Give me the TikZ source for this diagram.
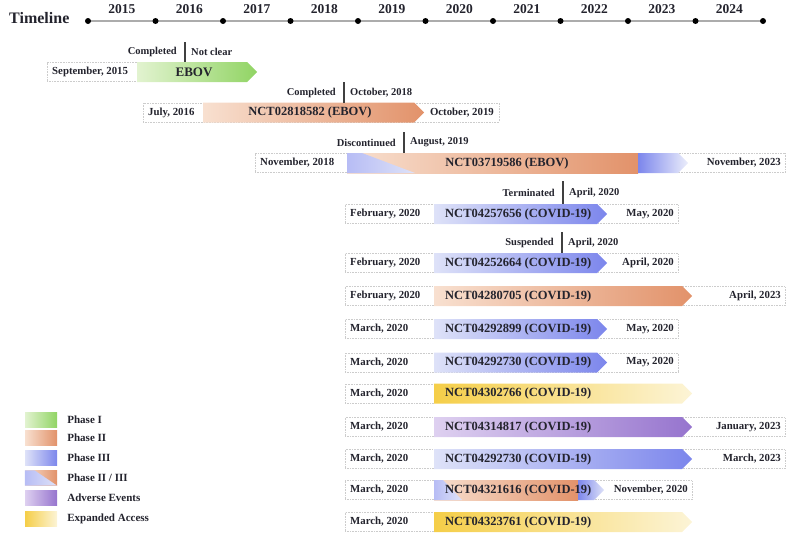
\documentclass[tikz,border=0pt]{standalone}
\usepackage{fontspec}
\setmainfont{Liberation Serif}
\usetikzlibrary{positioning,calc}
\definecolor{clrGrnL}{RGB}{226,243,208}
\definecolor{clrGrnD}{RGB}{145,212,100}
\definecolor{clrOrgL}{RGB}{248,224,208}
\definecolor{clrOrgD}{RGB}{226,146,106}
\definecolor{clrBluL}{RGB}{222,226,248}
\definecolor{clrBluD}{RGB}{124,134,236}
\definecolor{clrPurL}{RGB}{222,208,240}
\definecolor{clrPurD}{RGB}{150,116,206}
\definecolor{clrYelL}{RGB}{252,244,214}
\definecolor{clrYelD}{RGB}{245,206,72}
\definecolor{clrTxt}{RGB}{35,35,45}
% arrow bar: start x, tip x, centre y, left colour, right colour
\newcommand{\trialarm}[5]{%
  \shade[left color=#4,right color=#5] (#1,#3-10) -- (#2-10,#3-10) -- (#2,#3)
    -- (#2-10,#3+10) -- (#1,#3+10) -- cycle;}

\begin{document}
\begin{tikzpicture}[x=1pt,y=-1pt,
  lab/.style={font=\bfseries\fontsize{10.8}{12}\selectfont,text=clrTxt,inner sep=0pt},
  trial/.style={font=\bfseries\fontsize{12.5}{14}\selectfont,text=clrTxt,inner sep=0pt},
  note/.style={font=\bfseries\fontsize{10.5}{12}\selectfont,text=clrTxt,inner sep=0pt},
  year/.style={font=\bfseries\fontsize{13.5}{15}\selectfont,text=clrTxt,inner sep=0pt},
  legtxt/.style={font=\bfseries\fontsize{11}{12}\selectfont,text=clrTxt,inner sep=0pt,anchor=west},
  dot/.style={circle,fill=black,inner sep=0pt,minimum size=6pt},
  rowbox/.style={draw=gray!40,densely dotted,line width=0.6pt},
  sep/.style={line width=1.2pt,draw=black!75},
  swatch/.style={minimum width=32pt,minimum height=15pt,inner sep=0pt}]
  \useasboundingbox (0,0) rectangle (789,538);

  % timeline
  \node[anchor=west,font=\bfseries\fontsize{16}{18}\selectfont,text=clrTxt,inner sep=0pt] (tline) at (9,18) {Timeline};
  \foreach \i in {0,...,10}{\coordinate (c\i) at ({88+67.5*\i},21);}
  \draw[gray!65,line width=1.2pt] (c0) -- (c10);
  \foreach \i in {0,...,10}{\node[dot] (d\i) at (c\i) {};}
  \foreach \yr [count=\i from 0] in {2015,...,2024}{
    \node[year] (y\yr) at ({121.75+67.5*\i},9) {\yr};
  }

  % row frames and start dates
  \foreach \n/\y/\xa/\xb/\lab in {%
    1/72/47/137/{September, 2015},
    2/112.5/143/499/{July, 2016},
    3/163/255/785/{November, 2018},
    4/214/345/678/{February, 2020},
    5/263/345/678/{February, 2020},
    6/296/345/785/{February, 2020},
    7/329/345/678/{March, 2020},
    8/362.5/345/678/{March, 2020},
    9/393.5/345/434/{March, 2020},
    10/427/345/785/{March, 2020},
    11/459/345/785/{March, 2020},
    12/490/345/692/{March, 2020},
    13/522/345/434/{March, 2020}}{
      \draw[rowbox] (\xa,\y-9.5) rectangle (\xb,\y+9.5);
      \node[lab,anchor=west] (s\n) at (\xa+5,\y) {\lab};
  }

  % bars
  \trialarm{137}{257}{72}{clrGrnL}{clrGrnD}
  \trialarm{203}{424}{112.5}{clrOrgL}{clrOrgD}
  \shade[left color=clrOrgL,right color=clrOrgD] (347,153) rectangle (638,173);
  \trialarm{638}{688}{163}{clrBluD}{clrBluL!60}
  \shade[left color=clrBluD!55,right color=clrBluL] (347,153) -- (362,153) -- (415,173) -- (347,173) -- cycle;
  \trialarm{434}{607}{214}{clrBluL}{clrBluD}
  \trialarm{434}{607}{263}{clrBluL}{clrBluD}
  \trialarm{434}{692}{296}{clrOrgL}{clrOrgD}
  \trialarm{434}{607}{329}{clrBluL}{clrBluD}
  \trialarm{434}{607}{362.5}{clrBluL}{clrBluD}
  \trialarm{434}{692}{393.5}{clrYelD}{clrYelL}
  \trialarm{434}{692}{427}{clrPurL}{clrPurD}
  \trialarm{434}{692}{459}{clrBluL}{clrBluD}
  \shade[left color=clrOrgL,right color=clrOrgD] (434,480) rectangle (578,500);
  \trialarm{578}{604}{490}{clrBluD}{clrBluL}
  \shade[left color=clrBluD!55,right color=clrBluL] (434,480) -- (443,480) -- (462,500) -- (434,500) -- cycle;
  \trialarm{434}{692}{522}{clrYelD}{clrYelL}

  % trial names
  \node[trial,font=\bfseries\fontsize{13}{14}\selectfont] (t1) at (194,72) {EBOV};
  \node[trial] (t2) at (310,112.5) {NCT02818582 (EBOV)};
  \node[trial] (t3) at (507,163) {NCT03719586 (EBOV)};
  \foreach \n/\y/\id in {4/214/NCT04257656, 5/263/NCT04252664, 6/296/NCT04280705,
    7/329/NCT04292899, 8/362.5/NCT04292730, 9/393.5/NCT04302766, 10/427/NCT04314817,
    11/459/NCT04292730, 12/490/NCT04321616, 13/522/NCT04323761}{
      \node[trial,anchor=west] (t\n) at (445,\y) {\id\ (COVID-19)};
  }

  % end dates
  \foreach \n/\y/\x/\lab in {2/112.5/494/{October, 2019}, 3/163/781/{November, 2023},
    4/214/674/{May, 2020}, 5/263/674/{April, 2020}, 6/296/781/{April, 2023},
    7/329/674/{May, 2020}, 8/362.5/674/{May, 2020}, 10/427/781/{January, 2023},
    11/459/781/{March, 2023}, 12/490/688/{November, 2020}}{
      \node[lab,anchor=east] (e\n) at (\x,\y) {\lab};
  }

  % status marks
  \foreach \n/\x/\ya/\yb/\la/\lb in {%
    1/185/42/62/Completed/{Not clear},
    2/344/82/103/Completed/{October, 2018},
    3/404/132/153/Discontinued/{August, 2019},
    4/563/181/204/Terminated/{April, 2020},
    5/562/232/253/Suspended/{April, 2020}}{
      \coordinate (nt\n) at (\x,\ya);
      \coordinate (nb\n) at (\x,\yb);
      \coordinate (nm\n) at ($(nt\n)!0.5!(nb\n)$);
      \draw[sep] (nt\n) -- (nb\n);
      \node[note,left=8pt of nm\n] (nl\n) {\la};
      \node[note,right=6pt of nm\n] (nr\n) {\lb};
  }

  % legend
  \foreach \n/\y/\cl/\cr/\lab in {%
    1/419.5/clrGrnL/clrGrnD/{Phase I},
    2/438/clrOrgL/clrOrgD/{Phase II},
    3/457.5/clrBluL/clrBluD/{Phase III},
    4/478/clrOrgL/clrOrgD/{Phase II / III},
    5/498/clrPurL/clrPurD/{Adverse Events},
    6/519/clrYelD/clrYelL/{Expanded Access}}{
      \node[swatch,left color=\cl,right color=\cr] (sw\n) at (41,\y) {};
      \node[legtxt,right=10pt of sw\n] (lg\n) {\lab};
  }
  \shade[left color=clrBluD!55,right color=clrBluL] (sw4.north west)
    -- ($(sw4.north west)!0.3!(sw4.north east)$) -- (sw4.south east) -- (sw4.south west) -- cycle;
\end{tikzpicture}
\end{document}
